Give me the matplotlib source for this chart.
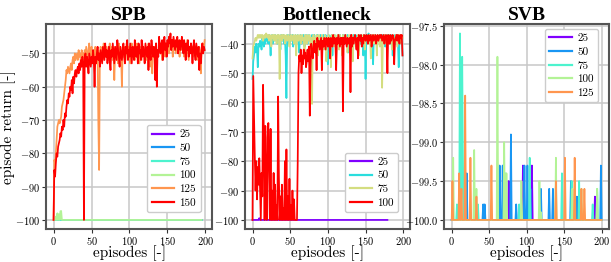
import numpy as np
import matplotlib
matplotlib.use("Agg")
import matplotlib.pyplot as plt

plt.rcParams['font.family'] = ['cmr10', 'DejaVu Serif']
plt.rcParams['mathtext.fontset'] = 'cm'
plt.rcParams['axes.formatter.use_mathtext'] = True
plt.rcParams['axes.unicode_minus'] = True

# ---------------- data ----------------
spb_labels = ["25", "50", "75", "100", "125", "150"]
spb_len_flat = 196
spb_100_bump = {3: -99.0, 5: -98.0, 7: -98.3, 9: -97.4, 10: -97.3}

spb_125 = [
    -100, -82, -83, -80, -76, -72, -71, -70, -71, -70,
    -69, -66, -65, -64, -62, -60, -58, -55, -56, -54,
    -55, -56, -54, -53, -55, -52, -51, -53, -50, -52,
    -51, -50, -52, -49, -51, -50, -53, -49, -51, -50,
    -52, -49, -51, -48, -50, -52, -49, -47, -51, -50,
    -48, -52, -50, -49, -51, -48, -50, -53, -49, -71,
    -85, -50, -48, -51, -49, -52, -47, -50, -49, -51,
    -48, -50, -52, -49, -47, -51, -50, -48, -52, -49,
    -58, -50, -48, -51, -49, -53, -47, -50, -48, -51,
    -60, -49, -51, -48, -50, -52, -47, -49, -51, -48,
    -50, -53, -49, -47, -51, -50, -48, -52, -49, -50,
    -47, -51, -49, -53, -48, -50, -52, -47, -49, -51,
    -50, -48, -52, -49, -51, -47, -50, -54, -48, -50,
    -56, -49, -51, -48, -50, -47, -52, -49, -50, -48,
    -47, -50, -49, -52, -48, -46, -50, -51, -48, -47,
    -49, -47, -50, -48, -46, -49, -47, -51, -48, -46,
    -48, -50, -47, -49, -46, -48, -51, -47, -49, -48,
    -46, -49, -51, -47, -48, -50, -46, -49, -52, -48,
    -50, -47, -49, -48, -51, -47, -50, -49, -48, -52,
    -49, -51, -48, -50, -56, -49, -47, -50, -48, -46,
]
spb_150 = [
    -100, -85, -87, -83, -80, -81, -78, -77, -76, -74,
    -75, -72, -73, -70, -72, -68, -69, -66, -64, -65,
    -62, -63, -60, -61, -58, -62, -57, -59, -56, -55,
    -57, -55, -54, -56, -53, -55, -52, -54, -51, -53,
    -100, -52, -50, -54, -51, -53, -56, -50, -52, -54,
    -51, -53, -49, -52, -60, -51, -53, -50, -48, -52,
    -50, -54, -49, -51, -53, -48, -50, -52, -47, -51,
    -49, -53, -50, -48, -52, -55, -49, -51, -47, -50,
    -53, -48, -50, -52, -46, -49, -51, -54, -48, -50,
    -52, -49, -47, -51, -53, -48, -50, -46, -52, -49,
    -51, -47, -50, -53, -48, -49, -52, -46, -50, -51,
    -48, -53, -47, -50, -49, -52, -46, -51, -48, -50,
    -53, -47, -49, -51, -48, -55, -47, -50, -52, -46,
    -49, -51, -48, -50, -58, -47, -60, -49, -51, -45,
    -48, -50, -47, -46, -52, -48, -45, -49, -47, -51,
    -46, -48, -45, -47, -44, -49, -46, -48, -45, -47,
    -49, -46, -48, -45, -50, -47, -46, -49, -48, -45,
    -47, -50, -46, -48, -52, -47, -49, -46, -51, -48,
    -50, -47, -49, -53, -48, -46, -50, -52, -47, -49,
    -51, -48, -55, -50, -53, -49, -47, -50, -48, -49,
]

bn_labels = ["25", "50", "75", "100"]
bn_25_len = 180
bn_25_bump = {9: -99.4}
bn_50 = [
    -52, -46, -44, -41, -43, -40, -42, -48, -40, -41,
    -39, -40, -42, -38, -39, -41, -38, -40, -37, -39,
    -38, -40, -37, -39, -44, -38, -37, -40, -39, -38,
    -37, -39, -38, -40, -37, -38, -39, -42, -37, -38,
    -39, -37, -40, -38, -44, -58.5, -39, -37, -38, -40,
    -37, -39, -38, -37, -41, -38, -39, -37, -40, -38,
    -37, -39, -43, -38, -37, -40, -38, -39, -37, -41,
    -38, -37, -39, -40, -38, -37, -39, -38, -42, -37,
    -38, -40, -37, -39, -38, -41, -37, -38, -40, -39,
    -37, -38, -42, -39, -37, -40, -38, -37, -39, -41,
    -47, -37, -39, -40, -38, -37, -44, -39, -38, -37,
    -40, -38, -39, -37, -38, -41, -37, -39, -38, -40,
    -37, -38, -39, -37, -40, -38, -37, -43, -39, -38,
    -37, -39, -38, -40, -37, -38, -39, -37, -41, -38,
    -39, -37, -38, -40, -37, -39, -38, -44, -37, -38,
    -52, -38, -37, -39, -36.5, -38, -40, -37, -39, -38,
    -47, -38, -37, -39, -38, -40, -37, -38, -39, -37,
    -38, -40, -37, -39, -38, -37, -41, -38, -39, -37,
    -38, -37, -39, -40, -38, -37, -44, -38, -42, -37,
    -38, -39, -37, -40, -48, -38, -39, -37, -38, -44,
]
bn_75 = [
    -45, -41, -40, -39, -38, -39, -38, -37, -38, -37,
    -38, -37, -38, -37, -39, -38, -37, -38, -36.5, -37,
    -38, -37, -39, -37, -38, -41, -37, -38, -37, -39,
    -37, -38, -40, -37, -38, -37, -52, -38, -37, -39,
    -37, -38, -37, -40, -38, -37, -39, -38, -37, -41,
    -38, -37, -39, -38, -37, -40, -38, -37, -44, -38,
    -37, -39, -38, -37, -40, -38, -37, -39, -38, -45,
    -37, -38, -40, -37, -39, -38, -37, -42, -38, -60.5,
    -38, -37, -39, -38, -40, -37, -38, -44, -37, -39,
    -38, -40, -37, -39, -38, -42, -37, -38, -46, -39,
    -38, -37, -40, -38, -48, -37, -39, -38, -41, -37,
    -38, -47, -39, -37, -38, -42, -37, -39, -38, -44,
    -37, -38, -40, -39, -37, -38, -43, -39, -37, -38,
    -40, -38, -37, -46, -39, -38, -37, -41, -38, -39,
    -37, -44, -38, -37, -39, -38, -40, -37, -38, -42,
    -38, -37, -39, -38, -40, -37, -38, -45, -39, -37,
    -38, -40, -37, -39, -38, -44, -37, -38, -39, -41,
    -38, -37, -55, -38, -39, -37, -40, -38, -37, -39,
    -38, -40, -37, -39, -38, -42, -37, -38, -40, -39,
    -37, -38, -41, -39, -37, -38, -40, -39, -37, -38,
]
bn_100 = [
    -100, -51, -65, -78, -90, -80, -93, -82, -88, -79,
    -90, -100, -84, -92, -54, -70, -100, -68, -88, -100,
    -72, -67, -85, -100, -69, -100, -90, -100, -84, -100,
    -88, -100, -95, -100, -58, -85, -100, -92, -100, -88,
    -100, -96, -100, -80, -100, -76, -100, -92, -100, -86,
    -100, -95, -100, -90, -100, -93, -100, -100, -100, -100,
    -80, -50, -44, -46, -42, -50, -44, -47, -42, -45,
    -43, -48, -46, -42, -46, -41, -64.5, -48, -40, -43,
    -45, -41, -39, -43, -40, -49, -38, -41, -39, -42,
    -40, -38, -49, -39, -41, -38, -40, -42, -38, -39,
    -41, -38, -40, -45, -38, -39, -41, -37, -40, -38,
    -39, -49, -38, -40, -37, -39, -41, -38, -40, -38,
    -63, -38, -40, -37, -39, -41, -38, -40, -39, -38,
    -56.5, -37, -41, -38, -40, -38, -37, -39, -42, -38,
    -45, -37, -38, -39, -37, -41, -38, -40, -37, -38,
    -39, -37, -38, -40, -37, -39, -38, -37, -41, -38,
    -37, -39, -38, -37, -40, -38, -37, -39, -38, -37,
    -38, -37, -39, -38, -37, -40, -38, -37, -39, -50,
    -37, -38, -40, -37, -39, -38, -37, -38, -47, -39,
    -38, -37, -39, -37, -38, -40, -37, -38, -37, -44,
]

svb_labels = ["25", "50", "75", "100", "125"]
svb_len = 201
svb_spikes = {
    "25": {76: -99.5, 95: -99.3, 107: -99.3, 191: -99.7},
    "50": {20: -99.4, 42: -99.8, 44: -99.8, 64: -99.3, 68: -99.3, 79: -98.9,
           86: -99.8, 97: -99.3, 101: -99.3, 105: -99.6, 119: -99.6,
           130: -99.6, 135: -99.6, 159: -99.5, 167: -99.7, 199: -99.3},
    "75": {7: -99.8, 11: -97.6, 14: -97.9, 15: -99.2, 35: -99.8, 72: -99.4,
           90: -99.8, 104: -99.2, 147: -99.4, 160: -99.5, 170: -99.5,
           188: -99.8, 194: -99.6},
    "100": {2: -99.2, 30: -99.1, 33: -99.6, 61: -97.9, 70: -99.0, 73: -99.4,
            93: -99.5, 117: -99.5, 119: -99.9, 139: -99.2, 161: -99.6,
            173: -99.6, 194: -99.6},
    "125": {1: -99.5, 10: -99.4, 13: -99.6, 18: -98.4, 25: -99.2, 33: -99.7,
            53: -99.3, 139: -99.5, 151: -99.2, 164: -99.2, 173: -99.6,
            177: -99.6},
}

# ---------------- helpers ----------------
def flat_series(n, bumps=None):
    arr = np.full(n, -100.0)
    if bumps:
        for k, v in bumps.items():
            arr[k] = v
    return arr

cm = plt.cm.rainbow
spb_colors = cm(np.linspace(0, 1, 6))
bn_colors = cm(np.linspace(0, 1, 4))
svb_colors = spb_colors[:5]

fig = plt.figure(figsize=(6.11, 2.62), dpi=100)
ax1 = fig.add_axes([0.0753, 0.125, 0.272, 0.783])
ax2 = fig.add_axes([0.401, 0.125, 0.270, 0.783])
ax3 = fig.add_axes([0.727, 0.125, 0.270, 0.783])

lw = 1.25
# SPB
spb_data = [flat_series(spb_len_flat), flat_series(spb_len_flat),
            flat_series(spb_len_flat), flat_series(spb_len_flat, spb_100_bump),
            np.array(spb_125, float), np.array(spb_150, float)]
for d, lab, c in zip(spb_data, spb_labels, spb_colors):
    ax1.plot(np.arange(len(d)), d, color=c, lw=lw, label=lab)

# Bottleneck
bn_data = [flat_series(bn_25_len, bn_25_bump), np.array(bn_50, float),
           np.array(bn_75, float), np.array(bn_100, float)]
for d, lab, c in zip(bn_data, bn_labels, bn_colors):
    ax2.plot(np.arange(len(d)), d, color=c, lw=lw, label=lab)

# SVB
for lab, c in zip(svb_labels, svb_colors):
    d = flat_series(svb_len, svb_spikes[lab])
    ax3.plot(np.arange(len(d)), d, color=c, lw=lw, label=lab)

titles = ["SPB", "Bottleneck", "SVB"]
for ax, t in zip([ax1, ax2, ax3], titles):
    ax.set_title(t, fontsize=14, fontweight='bold',
                 family=['Liberation Serif'], pad=3)
    ax.grid(True, color='#c8c8c8', lw=1.1)
    ax.set_axisbelow(True)
    for s in ax.spines.values():
        s.set_color('#555555')
        s.set_linewidth(1.5)
    ax.tick_params(labelsize=7.5, length=3, width=0.8, color='#333333', pad=1.2)
    ax.set_xlabel("episodes [-]", fontsize=11, labelpad=-1)
    ax.set_xticks([0, 50, 100, 150, 200])

ax1.set_yticks([-100, -90, -80, -70, -60, -50])
ax2.set_yticks([-100, -90, -80, -70, -60, -50, -40])
ax3.set_yticks([-100.0, -99.5, -99.0, -98.5, -98.0, -97.5])
ax3.yaxis.set_major_formatter(matplotlib.ticker.FormatStrFormatter(r'$%.1f$'))
ax1.set_ylabel("episode return [-]", fontsize=11, labelpad=-1)

leg_kw = dict(fontsize=8, handlelength=2.0, handletextpad=0.5,
              borderpad=0.4, labelspacing=0.35, borderaxespad=0,
              framealpha=1.0, edgecolor='#cccccc', fancybox=True)
ax1.legend(loc='lower right', bbox_to_anchor=(0.93, 0.083), **leg_kw)
ax2.legend(loc='lower right', bbox_to_anchor=(0.93, 0.083), **leg_kw)
ax3.legend(loc='upper right', bbox_to_anchor=(0.934, 0.976), **leg_kw)
for ax in (ax1, ax2, ax3):
    for h in ax.get_legend().get_lines():
        h.set_linewidth(1.6)

fig.savefig("out.png", dpi=100)
